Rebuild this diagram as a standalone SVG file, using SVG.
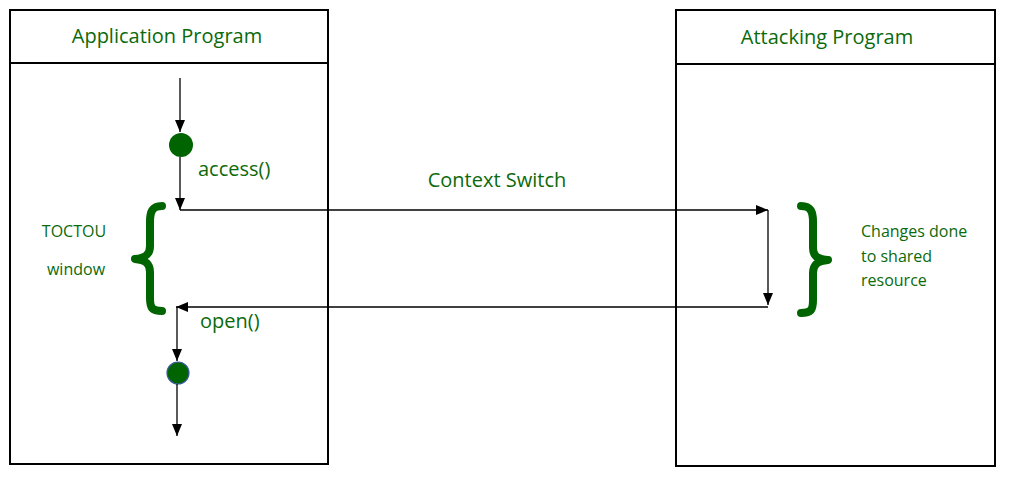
<svg xmlns="http://www.w3.org/2000/svg" width="1010" height="479" viewBox="0 0 1010 479">
<style>
.box{fill:#fff;stroke:#000;stroke-width:2}
.ln{stroke:#000;stroke-width:1.3;fill:none}
.t{font-family:"Open Sans","Liberation Sans",sans-serif;fill:#0b6a0b}
.brace{fill:none;stroke:#006400;stroke-width:8;stroke-linecap:round;stroke-linejoin:round}
</style>
<defs>
<marker id="ah" markerWidth="12" markerHeight="10" refX="12" refY="5" orient="auto" markerUnits="userSpaceOnUse">
<path d="M0,0 L12,5 L0,10 Z" fill="#000"/>
</marker>
</defs>
<rect width="1010" height="479" fill="#fff"/>
<g id="app">
<rect class="box" x="10" y="10" width="318" height="454"/>
<line x1="10" y1="63" x2="328" y2="63" stroke="#000" stroke-width="2"/>
<text class="t" x="167" y="43" font-size="20" text-anchor="middle">Application Program</text>
</g>
<g id="attack">
<rect class="box" x="676" y="10" width="319" height="456"/>
<line x1="676" y1="64" x2="995" y2="64" stroke="#000" stroke-width="2"/>
<text class="t" x="827" y="44" font-size="20" text-anchor="middle">Attacking Program</text>
</g>
<g id="node-access">
<circle cx="181" cy="145" r="12" fill="#006400"/>
<text class="t" x="198" y="176" font-size="20">access()</text>
</g>
<g id="node-open">
<circle cx="178" cy="373" r="11" fill="#006400" stroke="#3a5a9a" stroke-width="1.2"/>
<text class="t" x="200" y="328" font-size="20">open()</text>
</g>
<g id="toctou">
<path class="brace" d="M162,206 C152,206 150,212 150,222 L150,246 C150,254 146,258 135,259 C146,260 150,264 150,272 L150,298 C150,308 152,311 162,311"/>
<text class="t" x="74" y="237" font-size="16" text-anchor="middle">TOCTOU</text>
<text class="t" x="76" y="275" font-size="16" text-anchor="middle">window</text>
</g>
<g id="changes">
<path class="brace" d="M801,206 C811,206 813,212 813,222 L813,248 C813,256 817,259 828,260 C817,261 813,265 813,273 L813,300 C813,310 811,313 801,313"/>
<text class="t" x="861" y="237" font-size="16">Changes done</text>
<text class="t" x="861" y="262" font-size="16">to shared</text>
<text class="t" x="861" y="286" font-size="16">resource</text>
</g>
<g id="connectors">
<line class="ln" x1="180" y1="78" x2="180" y2="132" marker-end="url(#ah)"/>
<line class="ln" x1="180" y1="157" x2="180" y2="210" marker-end="url(#ah)"/>
<line class="ln" x1="180" y1="210" x2="768" y2="210" marker-end="url(#ah)"/>
<line class="ln" x1="768" y1="210" x2="768" y2="305" marker-end="url(#ah)"/>
<line class="ln" x1="768" y1="307" x2="176" y2="307" marker-end="url(#ah)"/>
<line class="ln" x1="177" y1="307" x2="177" y2="361" marker-end="url(#ah)"/>
<line class="ln" x1="177" y1="384" x2="177" y2="436" marker-end="url(#ah)"/>
<text class="t" x="497" y="187" font-size="20" text-anchor="middle">Context Switch</text>
</g>
</svg>
